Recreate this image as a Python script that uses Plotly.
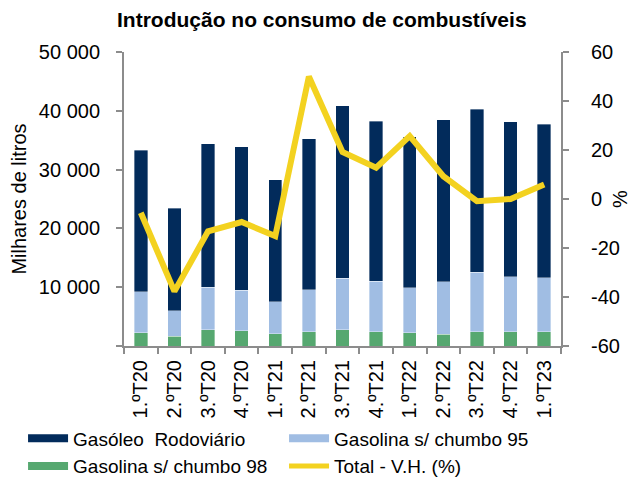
import plotly.graph_objects as go

categories = ["1.ºT20", "2.ºT20", "3.ºT20", "4.ºT20", "1.ºT21", "2.ºT21", "3.ºT21",
              "4.ºT21", "1.ºT22", "2.ºT22", "3.ºT22", "4.ºT22", "1.ºT23"]
gasoleo = [24020, 17500, 24410, 24360, 20730, 25610, 29300, 27200, 25720, 27480, 27710, 26350, 26060]
gasolina95 = [7035, 4260, 7220, 6935, 5450, 7160, 8805, 8580, 7665, 8920, 10110, 9365, 9255]
gasolina98 = [2215, 1700, 2780, 2555, 2100, 2440, 2725, 2440, 2215, 2040, 2440, 2385, 2385]
total_vh = [-5.6, -37.7, -13.2, -9.4, -15.1, 50.0, 19.2, 12.8, 25.7, 9.3, -0.9, 0.0, 5.9]

left_ticks = [0, 10000, 20000, 30000, 40000, 50000]
left_labels = ["", "10 000", "20 000", "30 000", "40 000", "50 000"]
right_ticks = [-60, -40, -20, 0, 20, 40, 60]
right_labels = ["-60", "-40", "-20", "0", "20", "40", "60"]

NAVY = "#022b5b"
LIGHT = "#a0bde3"
GREEN = "#56a870"
YELLOW = "#f3d220"
AXIS = "#8c8c8c"
FONT = "Liberation Sans, Arial, sans-serif"
FS = 20

fig = go.Figure()
bar_kw = dict(width=0.4, showlegend=False, marker_line=dict(color="rgba(255,255,255,0.6)", width=0.6))
fig.add_trace(go.Bar(x=categories, y=gasolina98, marker_color=GREEN, name="Gasolina s/ chumbo 98", **bar_kw))
fig.add_trace(go.Bar(x=categories, y=gasolina95, marker_color=LIGHT, name="Gasolina s/ chumbo 95", **bar_kw))
fig.add_trace(go.Bar(x=categories, y=gasoleo, marker_color=NAVY, name="Gasóleo  Rodoviário", **bar_kw))
fig.add_trace(go.Scatter(x=categories, y=total_vh, yaxis="y2", mode="lines",
                         line=dict(color=YELLOW, width=6), name="Total - V.H. (%)", showlegend=False))

# legend entries
for name, col, w in [("Gasóleo\u00a0 Rodoviário", NAVY, 8), ("Gasolina s/ chumbo 95", LIGHT, 8),
                     ("Gasolina s/ chumbo 98", GREEN, 8), ("Total - V.H. (%)", YELLOW, 5)]:
    fig.add_trace(go.Scatter(x=[None], y=[None], mode="lines", line=dict(color=col, width=w),
                             name=name, showlegend=True))

fig.update_layout(
    width=631, height=479,
    margin=dict(l=124, r=70, t=52, b=133, autoexpand=False),
    paper_bgcolor="white", plot_bgcolor="white",
    barmode="stack",
    separators=", ",
    font=dict(family=FONT, size=FS, color="#000000"),
    title=dict(text="<b>Introdução no consumo de combustíveis</b>", x=0.51, xanchor="center",
               y=0.958, yanchor="middle", font=dict(size=21, family=FONT)),
    xaxis=dict(type="category", range=[-0.5, 12.5], showline=True, linecolor=AXIS, linewidth=2,
               ticks="outside", tickson="boundaries", ticklen=6, tickcolor=AXIS, tickwidth=1.5,
               tickangle=-90, showgrid=False, tickfont=dict(size=FS), ticklabelstandoff=4),
    yaxis=dict(range=[0, 50000], tickvals=left_ticks, ticktext=left_labels, showline=True,
               linecolor=AXIS, linewidth=2, ticks="outside", ticklen=6, tickcolor=AXIS,
               tickwidth=1.5, showgrid=False, zeroline=False, ticklabelstandoff=12,
               title=dict(text="Milhares de litros", standoff=7, font=dict(size=FS))),
    yaxis2=dict(range=[-60, 60], tickvals=right_ticks, ticktext=right_labels, overlaying="y",
                side="right", showline=True, linecolor=AXIS, linewidth=2, ticks="outside",
                ticklen=6, tickcolor=AXIS, tickwidth=1.5, showgrid=False, zeroline=False,
                ticklabelstandoff=18,
                title=dict(text="%", standoff=7, font=dict(size=FS))),
    legend=dict(orientation="h", x=-0.231, y=-0.25,
                xanchor="left", yanchor="top", entrywidth=206, entrywidthmode="pixels",
                traceorder="normal", font=dict(size=19), itemwidth=40, tracegroupgap=0,
                bgcolor="rgba(0,0,0,0)"),
)

fig.write_html("out.html", config={"displayModeBar": False},
               post_script="document.body.style.margin='0px';")
